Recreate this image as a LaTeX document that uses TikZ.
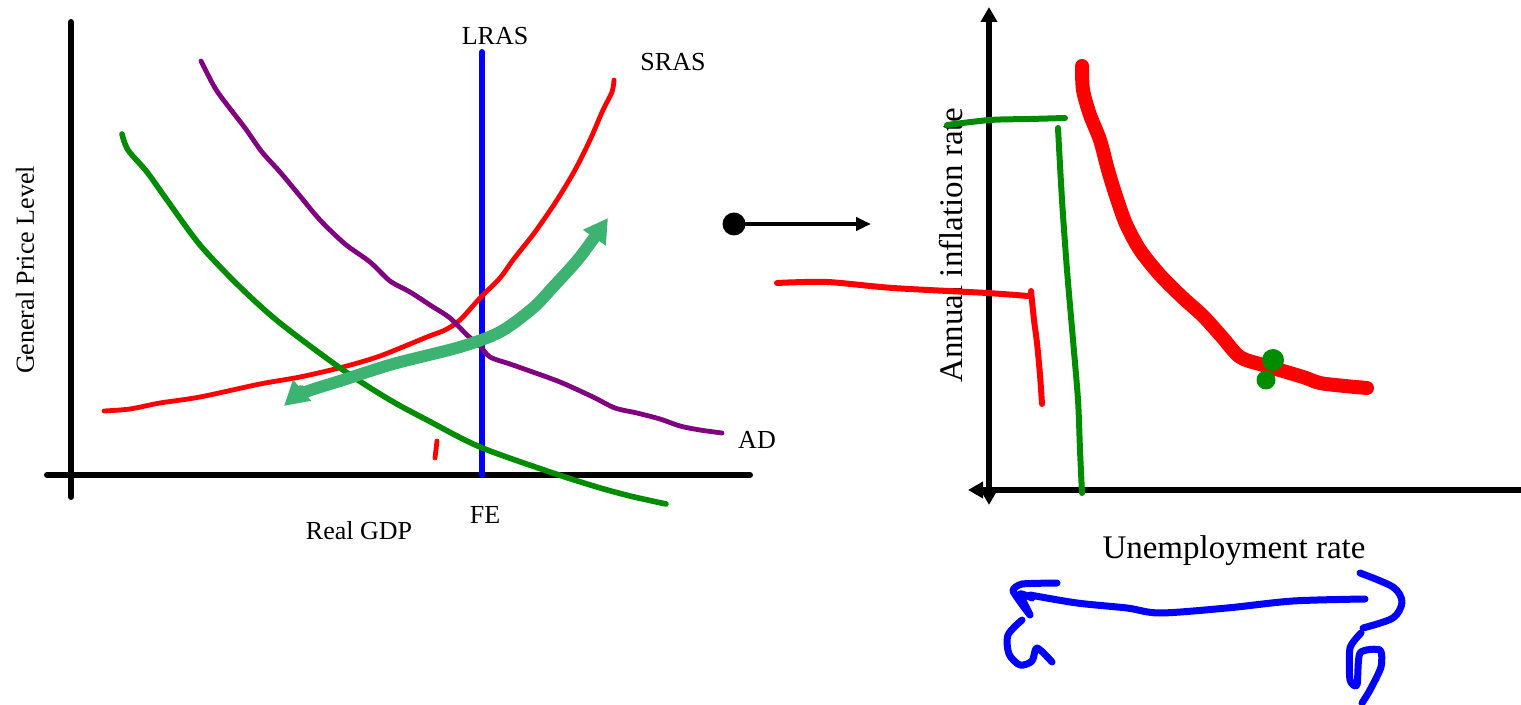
\documentclass[tikz,border=0pt]{standalone}
\usepackage{fontspec}
\setmainfont{Liberation Serif}
\usepackage{tikz}
\usetikzlibrary{arrows.meta}
\definecolor{adpurple}{RGB}{128,0,128}
\definecolor{adgreen}{RGB}{0,140,0}
\definecolor{seagreen}{RGB}{60,179,113}
\newcommand{\axisarrow}{Triangle[length=7.5pt,width=8pt]}
\newcommand{\drawarrow}{\draw[line width=2.3pt, -{Triangle[length=7.5pt,width=6.5pt]}]}

\begin{document}
\begin{tikzpicture}[x=0.5pt, y=-0.5pt,
    axis/.style={line width=3pt, line cap=round},
    pen/.style={line width=#1, line cap=round, line join=round},
    lbl/.style={inner sep=0pt, font=\fontsize{13}{15}\selectfont},
    biglbl/.style={inner sep=0pt, font=\fontsize{16.5}{19}\selectfont}]
    \useasboundingbox (0,0) rectangle (1521,705);

    % Draw axes (AD-AS)
    \coordinate (ytop) at (71,22);
    \coordinate (ybot) at (71,497);
    \coordinate (xleft) at (47,475);
    \coordinate (xright) at (750,475);
    \draw[axis] (ytop) -- (ybot);
    \draw[axis] (xleft) -- (xright);

    % Draw curves
    \coordinate (lrastop) at (482,52);
    \coordinate (lrasbot) at (482,475);
    \draw[pen=3pt, blue] (lrastop) -- (lrasbot);

    \draw[pen=2.4pt, red] plot[smooth] coordinates {(104,411) (130,409) (160,403)
        (200,397) (260,384) (300,377) (343,367) (380,356) (427,337) (445,330)
        (460,320) (480,298) (500,278) (513,260) (535,232) (557,200) (575,170)
        (590,140) (603,110) (612,92) (614,80)};
    \draw[pen=2.4pt, adpurple] plot[smooth] coordinates {(201,61) (215,88) (228,106)
        (245,128) (262,152) (280,172) (300,196) (320,220) (345,244) (370,262)
        (390,281) (410,292) (430,305) (450,318) (467,335) (480,346) (490,357)
        (510,364) (527,370) (560,382) (593,397) (615,408) (637,413) (660,419)
        (680,426) (700,430) (722,433)};
    \draw[pen=2.8pt, adgreen] plot[smooth] coordinates {(122,134) (128,150)
        (147,172) (167,200) (200,245) (240,287) (280,323) (343,370) (390,400)
        (427,420) (480,447) (553,473) (597,487) (630,496) (666,504)};
    \draw[pen=2.4pt, red] (437,441) -- (435,458);

    % Movement along SRAS
    \draw[pen=6pt, seagreen, {Triangle[length=12pt,width=13pt]}-{Triangle[length=12pt,width=13pt]}]
        plot[smooth] coordinates {(284,406) (303,393) (343,380) (393,364)
        (460,347) (500,332) (533,308) (553,287) (580,257) (608,218)};

    \node[lbl] (lras) at (495,36) {LRAS};
    \node[lbl] (sras) at (673,62) {SRAS};
    \node[lbl] (ad) at (757,440) {AD};
    \node[lbl] (fe) at (485,515) {FE};
    \node[lbl] (gdp) at (359,531) {Real GDP};
    \node[lbl, rotate=90] (gpl) at (25,270) {General Price Level};

    % Draw link
    \coordinate (dot) at (734,224);
    \coordinate (tip) at (871,224);
    \fill (dot) circle (11.5);
    \drawarrow (dot) -- (tip);

    % Draw axes (Phillips)
    \coordinate (ptop) at (989,7);
    \coordinate (pbot) at (989,505);
    \coordinate (pleft) at (968,490);
    \coordinate (pright) at (1521,490);
    \draw[line width=3pt, {\axisarrow}-{\axisarrow}] (pbot) -- (ptop);
    \draw[line width=3pt, -{\axisarrow}] (pright) -- (pleft);

    \node[biglbl, rotate=90] (infl) at (951,245) {Annual inflation rate};
    \node[biglbl] (unemp) at (1234,551) {Unemployment rate};

    % Phillips curve
    \draw[pen=7pt, red] plot[smooth] coordinates {(1082,66) (1083,90) (1090,115)
        (1100,140) (1108,170) (1116,196) (1126,224) (1140,250) (1160,275)
        (1182,297) (1203,316) (1222,337) (1240,357) (1263,365) (1303,377)
        (1320,383) (1345,386) (1367,388)};
    \fill[adgreen] (1273,360) circle (11);
    \fill[adgreen] (1266,380) circle (9.5);

    % Short run and long run lines
    \draw[pen=3pt, adgreen] plot[smooth] coordinates {(947,125) (990,120)
        (1030,119) (1065,118)};
    \draw[pen=3pt, adgreen] plot[smooth] coordinates {(1058,128) (1062,200)
        (1067,270) (1073,340) (1078,400) (1080,450) (1082,493)};
    \draw[pen=3pt, red] plot[smooth] coordinates {(777,283) (827,282) (893,288)
        (987,293) (1028,296)};
    \draw[pen=3pt, red] plot[smooth] coordinates {(1031,291) (1034,320)
        (1037,343) (1040,375) (1042,404)};

    % Scribbles
    \draw[pen=3.5pt, blue] plot[smooth] coordinates {(1365,599) (1293,601)
        (1227,608) (1160,613) (1127,608) (1077,603) (1030,595)};
    \draw[pen=3.5pt, blue] plot[smooth, tension=0.3] coordinates {(1057,583)
        (1022,584) (1013,591) (1030,615) (1020,594) (1032,598)};
    \draw[pen=3.5pt, blue] plot[smooth] coordinates {(1022,620) (1008,635)
        (1009,654) (1020,665) (1032,661) (1037,648) (1052,662)};
    \draw[pen=3.5pt, blue] plot[smooth] coordinates {(1360,573) (1393,587)
        (1402,602) (1393,618) (1363,628)};
    \draw[pen=3.5pt, blue] plot[smooth, tension=0.4] coordinates {(1361,633)
        (1350,648) (1350,680) (1357,685) (1360,653) (1380,650) (1381,667)
        (1370,690) (1362,703)};
\end{tikzpicture}
\end{document}
